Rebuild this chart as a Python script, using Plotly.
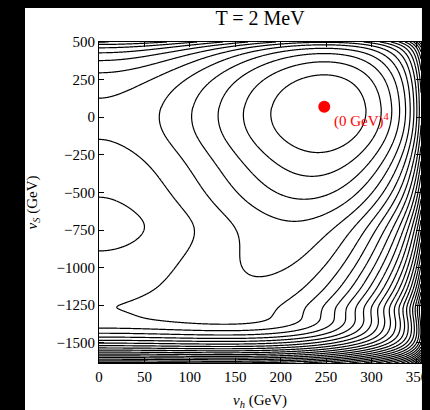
import numpy as np
import plotly.graph_objects as go

# ---------------- chart content ----------------
title_text = "T = 2 MeV"
x_title = "<i>v<sub>h</sub></i> (GeV)"
y_title = "<i>v<sub>S</sub></i> (GeV)"
x_ticks = [0, 50, 100, 150, 200, 250, 300, 350]
y_ticks = [500, 250, 0, -250, -500, -750, -1000, -1250, -1500]
x_range = [0, 354.5]
y_range = [-1634, 500]

# true vacuum marker and its label
vac_h = [248]
vac_s = [70]
vac_label = "(0 GeV)<sup>4</sup>"
label_h, label_s = 256, -25

# contour levels (equally spaced, in units of the level step)
level_start, level_end, level_step = 1, 70, 1

# effective-potential shape parameters
lam4 = 1.556e-9                                  # quartic coefficient along h
H_top, H_lin, H_quad = 61500.0, 9.34, 0.01813    # valley position (h^2) vs s
H_drop, H_drop_at = 17.0, 1150.0
H_min, H_soft = 18800.0, 2000.0
s_vac = 67.0
U_c, U_sigma = 0.9375, 150.0                     # valley floor below the vacuum
bend1_slope, bend1_at = 0.0031, 780.0
bend2_slope, bend2_at = 0.0010, 1117.0
U_up_scale = 215.0                               # valley floor above the vacuum
tilt_amp, tilt_w = 0.00156, 200.0
bump_amp, bump_s, bump_w = 0.3, -760.0, 200.0
top_amp, top_s, top_len = 2.15, 500.0, 40.0
bot_coef, bot_s = 1.65e-4, -1334.0
right_amp, right_h, right_len = 0.36, 331.0, 10.6
soft_amp, soft_s, soft_w = 0.45, -1450.0, 60.0

# ---------------- surface ----------------
h = np.linspace(x_range[0], x_range[1], 440)
s = np.linspace(y_range[0], y_range[1], 760)
HH, SS = np.meshgrid(h, s)


def ramp(x, w):
    return 0.5 * (np.sqrt(x * x + w * w) + x)


r = ramp(-SS, 100.0)
H1 = H_top - H_lin * r - H_quad * r ** 2 - H_drop * ramp(r - H_drop_at, 40.0)
Hs = 0.5 * (H1 + H_min + np.sqrt((H1 - H_min) ** 2 + H_soft ** 2))
u = SS - s_vac
U_low = (U_c * (np.sqrt(1 + (u / U_sigma) ** 2) - 1)
         - bend1_slope * ramp(-u - bend1_at, 80.0)
         - bend2_slope * ramp(-u - bend2_at, 80.0))
U_high = (u / U_up_scale) ** 2
U = np.where(u < 0, U_low, U_high)
U = U + tilt_amp * SS * np.exp(-(SS / tilt_w) ** 2)
U = U + bump_amp * np.exp(-((SS - bump_s) / bump_w) ** 2)
U = U + top_amp * np.exp((SS - top_s) / top_len)
U = U + bot_coef * ramp(bot_s - SS, 20.0) ** 2
lam_eff = lam4 * (1 - soft_amp / (1 + np.exp(-(soft_s - SS) / soft_w)))
V = lam_eff * (HH ** 2 - Hs) ** 2 + U + right_amp * np.exp((HH - right_h) / right_len)
V = V - V.min()

serif = "Liberation Serif, DejaVu Serif, serif"

fig = go.Figure()
fig.add_trace(go.Contour(
    x=h, y=s, z=V,
    contours=dict(start=level_start, end=level_end, size=level_step, coloring="lines"),
    colorscale=[[0, "black"], [1, "black"]],
    line=dict(width=1.2),
    showscale=False,
    hoverinfo="skip",
))
fig.add_trace(go.Scatter(
    x=vac_h, y=vac_s, mode="markers",
    marker=dict(color="#ff0000", size=12),
    hoverinfo="skip", showlegend=False,
))
fig.add_annotation(
    x=label_h, y=label_s, text=vac_label, showarrow=False,
    xanchor="left", yanchor="middle",
    font=dict(family=serif, size=15, color="#ff0000"),
)

fig.update_layout(
    width=430, height=410,
    margin=dict(l=99, r=9, t=42, b=47, autoexpand=False),
    paper_bgcolor="black",
    plot_bgcolor="white",
    showlegend=False,
    title=dict(text=title_text, x=(99 + 322 / 2) / 430, xref="container", xanchor="center",
               y=1 - 18 / 410, yref="container", yanchor="middle",
               font=dict(family=serif, size=20, color="black")),
    shapes=[dict(type="rect", xref="paper", yref="paper",
                 x0=-74 / 322, x1=1.003, y0=-47 / 321, y1=1 + 34 / 321,
                 fillcolor="white", line_width=0, layer="below")],
)
axis_common = dict(
    showgrid=False, zeroline=False, automargin=False,
    showline=True, linecolor="black", linewidth=1, mirror="ticks",
    ticks="inside", ticklen=5, tickcolor="black", tickwidth=1,
    tickfont=dict(family=serif, size=15, color="black"),
)
fig.update_xaxes(range=x_range, tickvals=x_ticks, **axis_common,
                 title=dict(text=x_title, font=dict(family=serif, size=15, color="black")))
fig.update_yaxes(range=y_range, tickvals=y_ticks, **axis_common,
                 title=dict(text=y_title, font=dict(family=serif, size=15, color="black")))

fig.write_html(
    "out.html",
    config={"displayModeBar": False},
    post_script="document.body.style.margin='0px';document.body.style.background='black';",
)
